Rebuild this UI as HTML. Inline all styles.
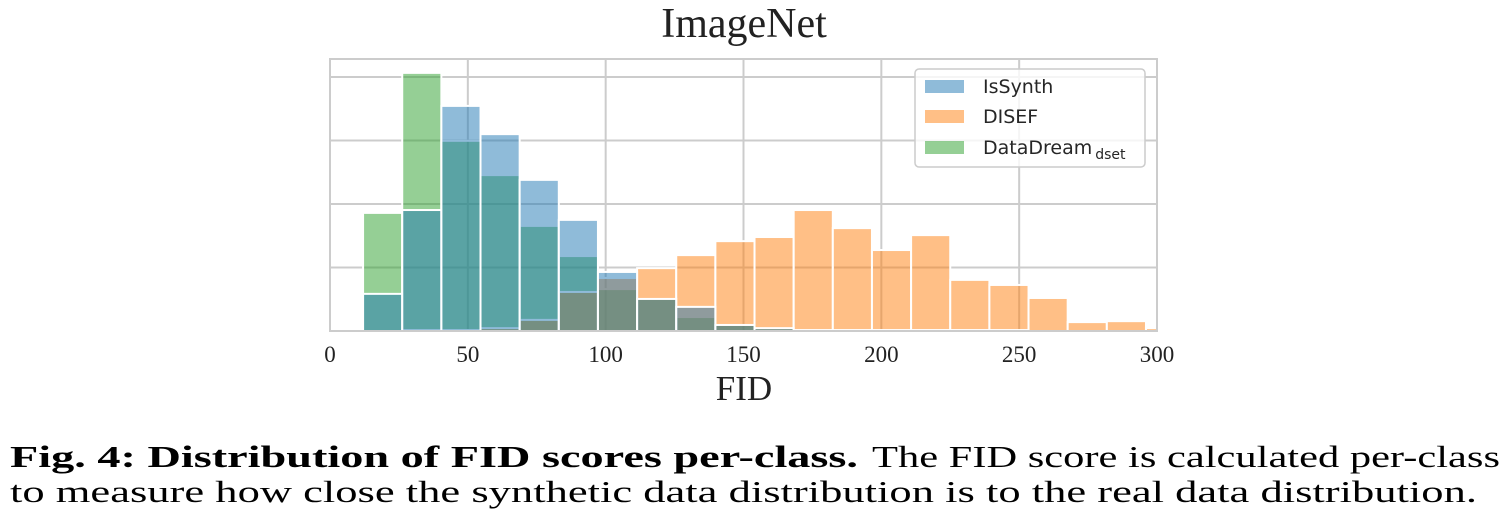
<!DOCTYPE html>
<html><head><meta charset="utf-8"><style>
html,body{margin:0;padding:0;background:#fff;}
svg{display:block;}
</style></head><body>
<svg id="chart" width="1506" height="528" viewBox="0 0 1506 528" xmlns="http://www.w3.org/2000/svg">
<text x="744" y="37" text-anchor="middle" font-family="Liberation Serif, serif" font-size="42" fill="#222">ImageNet</text>
<g id="grid"></g>
<g id="bars"></g>
<rect x="330" y="59" width="827" height="272" fill="none" stroke="#cccccc" stroke-width="2"/>
<g id="xticks"></g>
<text x="744" y="400" text-anchor="middle" font-family="Liberation Serif, serif" font-size="35" fill="#222">FID</text>
<g>
<rect x="915" y="69" width="230" height="98" rx="4" fill="#fff" fill-opacity="0.8" stroke="#cccccc" stroke-width="1.5"/>
<rect x="925" y="80" width="39" height="13" fill="#1f77b4" fill-opacity="0.5"/>
<text x="983" y="93" font-family="DejaVu Sans, sans-serif" font-size="19" fill="#262626">IsSynth</text>
<rect x="925" y="110" width="39" height="13" fill="#ff7f0e" fill-opacity="0.5"/>
<text x="983" y="123" font-family="DejaVu Sans, sans-serif" font-size="19" fill="#262626">DISEF</text>
<rect x="925" y="141" width="39" height="13" fill="#2ca02c" fill-opacity="0.5"/>
<text x="983" y="154" font-family="DejaVu Sans, sans-serif" font-size="19" fill="#262626">DataDream<tspan font-size="14" dx="3" dy="5">dset</tspan></text>
</g>
<text y="467" font-family="Liberation Serif, serif" font-size="31" fill="#000"><tspan x="10" font-weight="bold" textLength="848" lengthAdjust="spacingAndGlyphs">Fig. 4: Distribution of FID scores per-class.</tspan><tspan x="872" textLength="628" lengthAdjust="spacingAndGlyphs">The FID score is calculated per-class</tspan></text>
<text x="10" y="502" font-family="Liberation Serif, serif" font-size="31" fill="#000" textLength="1467" lengthAdjust="spacingAndGlyphs">to measure how close the synthetic data distribution is to the real data distribution.</text>
</svg>
<script>
const binStart = 12;
const binWidth = 14.2;
const xTicks = [0, 50, 100, 150, 200, 250, 300];
const yGrid = [20, 40, 60, 80];
const isSynth = [11.7, 38.1, 70.9, 62.0, 47.6, 35.0, 18.6, 10.1, 7.6, 1.9, 0.9, 0.3, 0.3, 0.3, 0.3, 0.3, 0.3, 0, 0, 0, 0];
const disef = [0, 0.3, 0.3, 0.9, 3.5, 12.3, 16.7, 19.8, 23.9, 28.3, 29.6, 38.1, 32.4, 25.5, 30.2, 16.1, 14.5, 10.4, 2.8, 3.1, 0.9];
const dataDream = [37.2, 81.3, 59.9, 49.1, 33.1, 23.6, 13.2, 10.1, 4.4, 1.9, 0.9, 0, 0, 0, 0, 0, 0, 0, 0, 0, 0];

const NS = 'http://www.w3.org/2000/svg';
const X0 = 330, X1 = 1157, Y0 = 331, YT = 59;
const xMax = 300, yMax = (Y0 - YT) / 63.5 * 20;
function xs(v){ return X0 + v / xMax * (X1 - X0); }
function ys(v){ return Y0 - v / yMax * (Y0 - YT); }
function mk(tag, attrs, parent){
  const el = document.createElementNS(NS, tag);
  for (const k in attrs) el.setAttribute(k, attrs[k]);
  parent.appendChild(el);
  return el;
}
const grid = document.getElementById('grid');
const bars = document.getElementById('bars');
const xt = document.getElementById('xticks');
xTicks.forEach(t => {
  const l = mk('line', {x1: xs(t), x2: xs(t), y1: YT, y2: Y0, stroke: '#cccccc', 'stroke-width': 2}, grid);
  
  
  const tx = mk('text', {x: xs(t), y: 362, 'text-anchor': 'middle', 'font-family': 'Liberation Serif, serif', 'font-size': 23, fill: '#222'}, xt);
  tx.textContent = t;
  
  
});
yGrid.forEach(v => {
  const l = mk('line', {x1: X0, x2: X1, y1: ys(v), y2: ys(v), stroke: '#cccccc', 'stroke-width': 2}, grid);
  
  
});
const clip = mk('clipPath', {id: 'pc'}, document.getElementById('chart'));
mk('rect', {x: X0, y: YT, width: X1 - X0, height: Y0 - YT}, clip);
bars.setAttribute('clip-path', 'url(#pc)');
const series = [[dataDream, '#2ca02c', 'datadream'], [disef, '#ff7f0e', 'disef'], [isSynth, '#1f77b4', 'issynth']];
series.forEach(([vals, col, nm]) => {
  vals.forEach((v, i) => {
    if (v <= 0) return;
    const xa = xs(binStart + i * binWidth), xb = xs(binStart + (i + 1) * binWidth);
    const r = mk('rect', {x: xa, y: ys(v), width: xb - xa, height: Y0 - ys(v), fill: col, 'fill-opacity': 0.5, stroke: '#fff', 'stroke-width': 2}, bars);
    
    
  });
});
</script>
</body></html>
